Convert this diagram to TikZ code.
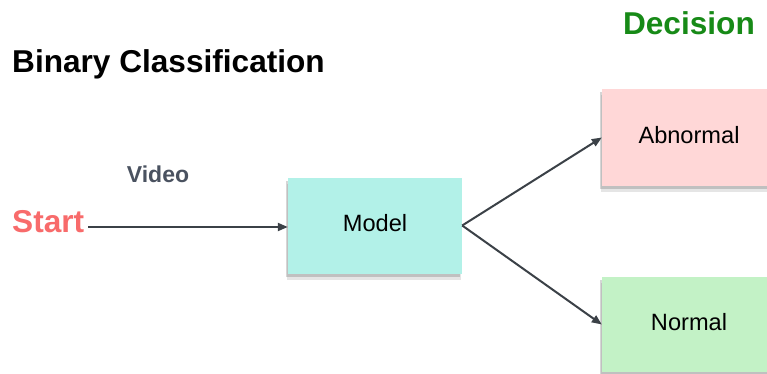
\documentclass[tikz,border=0pt]{standalone}
\usepackage{fontspec}
\setmainfont{Liberation Sans}
\usetikzlibrary{arrows.meta,shadows}
\definecolor{startred}{HTML}{F86B6B}
\definecolor{videogray}{HTML}{4A5260}
\definecolor{decgreen}{HTML}{178A17}
\definecolor{linegray}{HTML}{3B4147}
\definecolor{modelfill}{HTML}{B2F1E8}
\definecolor{abnfill}{HTML}{FFD7D7}
\definecolor{normfill}{HTML}{C3F2C6}
\tikzset{
  note/.style={minimum width=174pt, minimum height=96pt, inner sep=0pt,
    font=\fontsize{23.6}{28}\selectfont,
    drop shadow={shadow xshift=-1pt, shadow yshift=-6pt, opacity=0.10, fill=black},
    drop shadow={shadow xshift=-2pt, shadow yshift=-3pt, opacity=0.16, fill=black}},
  heading/.style={font=\fontsize{31.6}{36}\selectfont\bfseries, inner sep=0pt},
  flow/.style={draw=linegray, line width=2pt, -{Triangle[length=10pt,width=8pt]}}
}
\newcommand{\notetext}[1]{\raisebox{6pt}{#1}}
\begin{document}
\begin{tikzpicture}[x=1pt,y=-1pt]
\useasboundingbox (0,0) rectangle (767,374);
\clip (0,0) rectangle (767,374);
\fill[white] (0,0) rectangle (767,374);

% titles
\node[heading, anchor=west] (title) at (12,64) {Binary Classification};
\node[heading, text=decgreen, anchor=east] (decision) at (755,23) {Decision};

% input side
\node[heading, text=startred, anchor=west] (start) at (12,222) {Start};
\node[font=\fontsize{23}{28}\selectfont\bfseries, text=videogray, inner sep=0pt] (video) at (158,174) {Video};

% sticky notes
\node[note, fill=modelfill] (model) at (375,225.5) {\notetext{Model}};
\node[note, fill=abnfill, minimum height=97pt] (abn) at (689,137.5) {\notetext{Abnormal}};
\node[note, fill=normfill, minimum height=95pt] (norm) at (689,324.5) {\notetext{Normal}};

% connectors
\draw[flow] (start.east) ++(4,5) coordinate (s0) -- (s0 -| model.west);
\draw[flow] (model.east) -- (abn.west);
\draw[flow] (model.east) -- (norm.west);
\end{tikzpicture}
\end{document}
